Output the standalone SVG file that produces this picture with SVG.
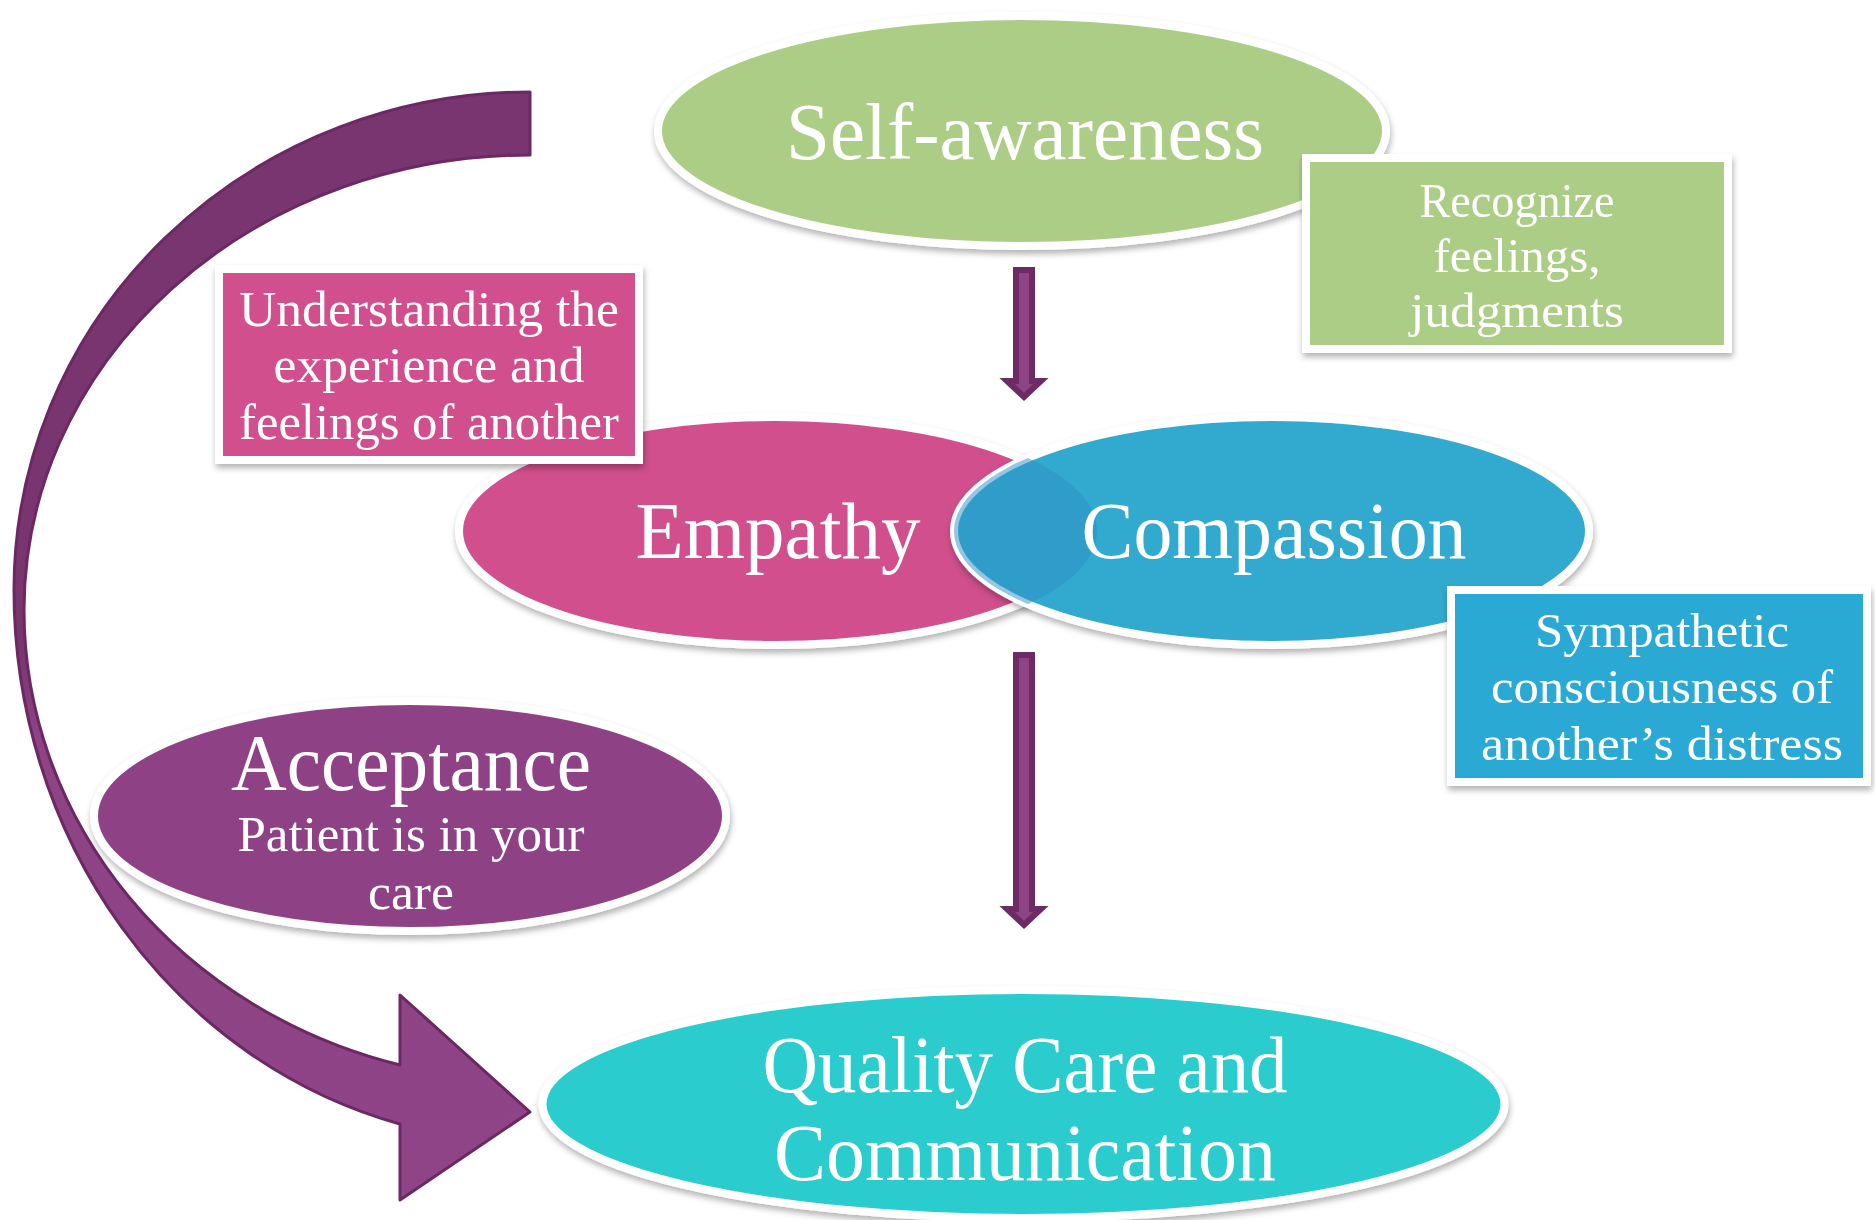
<svg xmlns="http://www.w3.org/2000/svg" width="1875" height="1220" viewBox="0 0 1875 1220">
<defs>
  <filter id="sh" x="-10%" y="-10%" width="120%" height="125%">
    <feDropShadow dx="1" dy="4" stdDeviation="3" flood-color="#000" flood-opacity="0.3"/>
  </filter>
  <linearGradient id="curveGrad" gradientUnits="userSpaceOnUse" x1="0" y1="92" x2="0" y2="1200">
    <stop offset="0" stop-color="#79356F"/>
    <stop offset="0.5" stop-color="#79356F"/>
    <stop offset="0.58" stop-color="#8D4384"/>
    <stop offset="1" stop-color="#8F4487"/>
  </linearGradient>
  <clipPath id="compClip">
    <ellipse cx="1271.5" cy="531" rx="317.5" ry="114"/>
  </clipPath>
  <style>
    .oval { stroke: #FFFFFF; stroke-width: 8; }
    .box { stroke: #FFFFFF; stroke-width: 8; }
    .big { font-family: "Liberation Serif", "Times New Roman", serif; font-size: 80px; fill: #FFFFFF; text-anchor: middle; }
    .small { font-family: "Liberation Serif", "Times New Roman", serif; font-size: 48px; fill: #FFFFFF; text-anchor: middle; }
    .down { fill: #8E4385; stroke: #6D2A65; stroke-width: 6; stroke-linejoin: miter; }
  </style>
</defs>
<rect width="1875" height="1220" fill="#FFFFFF"/>

<g id="connectors">
  <path id="curved-arrow" d="M 530,92 A 516 498 0 0 0 14,590 A 516 552 0 0 0 400,1124 L 400,1200 L 530,1112 L 400,995 L 400,1065 A 506 471 0 0 1 24,610 A 506 455 0 0 1 530,155 Z" fill="url(#curveGrad)" stroke="#6B2862" stroke-width="3" stroke-linejoin="round"/>
  <polygon id="arrow-down-1" class="down" points="1016,270 1032,270 1032,381 1041,381 1024,397 1007,381 1016,381"/>
  <polygon id="arrow-down-2" class="down" points="1016,655 1032,655 1032,909 1041,909 1024,925 1007,909 1016,909"/>
</g>

<g id="self-awareness" filter="url(#sh)">
  <ellipse class="oval" cx="1022" cy="131" rx="364" ry="115" fill="#ACCD86"/>
  <text class="big" x="1025" y="159" textLength="478" lengthAdjust="spacingAndGlyphs">Self-awareness</text>
</g>

<g id="recognize-box" filter="url(#sh)">
  <rect class="box" x="1306" y="158" width="422" height="191" fill="#ABCD85"/>
  <text class="small" x="1517" y="217" textLength="195" lengthAdjust="spacingAndGlyphs">Recognize</text>
  <text class="small" x="1517" y="272" textLength="167" lengthAdjust="spacingAndGlyphs">feelings,</text>
  <text class="small" x="1517" y="327" textLength="214" lengthAdjust="spacingAndGlyphs">judgments</text>
</g>

<g id="empathy" filter="url(#sh)">
  <ellipse class="oval" cx="776" cy="531" rx="317" ry="114" fill="#D0508C"/>
  <text class="big" x="778" y="558" textLength="285" lengthAdjust="spacingAndGlyphs">Empathy</text>
</g>

<g id="compassion">
  <ellipse class="oval" cx="1271.5" cy="531" rx="317.5" ry="114" fill="#33A9CF" filter="url(#sh)"/>
  <ellipse cx="776" cy="531" rx="321" ry="118" fill="#2B8FC4" opacity="0.5" clip-path="url(#compClip)"/>
  <text class="big" x="1274" y="558" textLength="385" lengthAdjust="spacingAndGlyphs">Compassion</text>
</g>

<g id="understanding-box" filter="url(#sh)">
  <rect class="box" x="219" y="269" width="420" height="191" fill="#D0508C"/>
  <text class="small" style="font-size:50px" x="429" y="326" textLength="380" lengthAdjust="spacingAndGlyphs">Understanding the</text>
  <text class="small" style="font-size:50px" x="429" y="382" textLength="311" lengthAdjust="spacingAndGlyphs">experience and</text>
  <text class="small" style="font-size:50px" x="429" y="439" textLength="380" lengthAdjust="spacingAndGlyphs">feelings of another</text>
</g>

<g id="sympathetic-box" filter="url(#sh)">
  <rect class="box" x="1451" y="590" width="416" height="192" fill="#2AA9D4"/>
  <text class="small" x="1662" y="647" textLength="254" lengthAdjust="spacingAndGlyphs">Sympathetic</text>
  <text class="small" x="1662" y="703" textLength="342" lengthAdjust="spacingAndGlyphs">consciousness of</text>
  <text class="small" x="1662" y="760" textLength="362" lengthAdjust="spacingAndGlyphs">another’s distress</text>
</g>

<g id="acceptance" filter="url(#sh)">
  <ellipse class="oval" cx="410" cy="816" rx="316" ry="115" fill="#8E4385"/>
  <text class="big" x="411" y="790" textLength="360" lengthAdjust="spacingAndGlyphs">Acceptance</text>
  <text class="small" style="font-size:50px" x="411" y="851" textLength="347" lengthAdjust="spacingAndGlyphs">Patient is in your</text>
  <text class="small" style="font-size:50px" x="411" y="909" textLength="86" lengthAdjust="spacingAndGlyphs">care</text>
</g>

<g id="quality-care" filter="url(#sh)">
  <ellipse class="oval" cx="1023.5" cy="1104" rx="481" ry="114" fill="#29CCCE"/>
  <text class="big" x="1025" y="1092" textLength="525" lengthAdjust="spacingAndGlyphs">Quality Care and</text>
  <text class="big" x="1025" y="1180" textLength="502" lengthAdjust="spacingAndGlyphs">Communication</text>
</g>
</svg>
